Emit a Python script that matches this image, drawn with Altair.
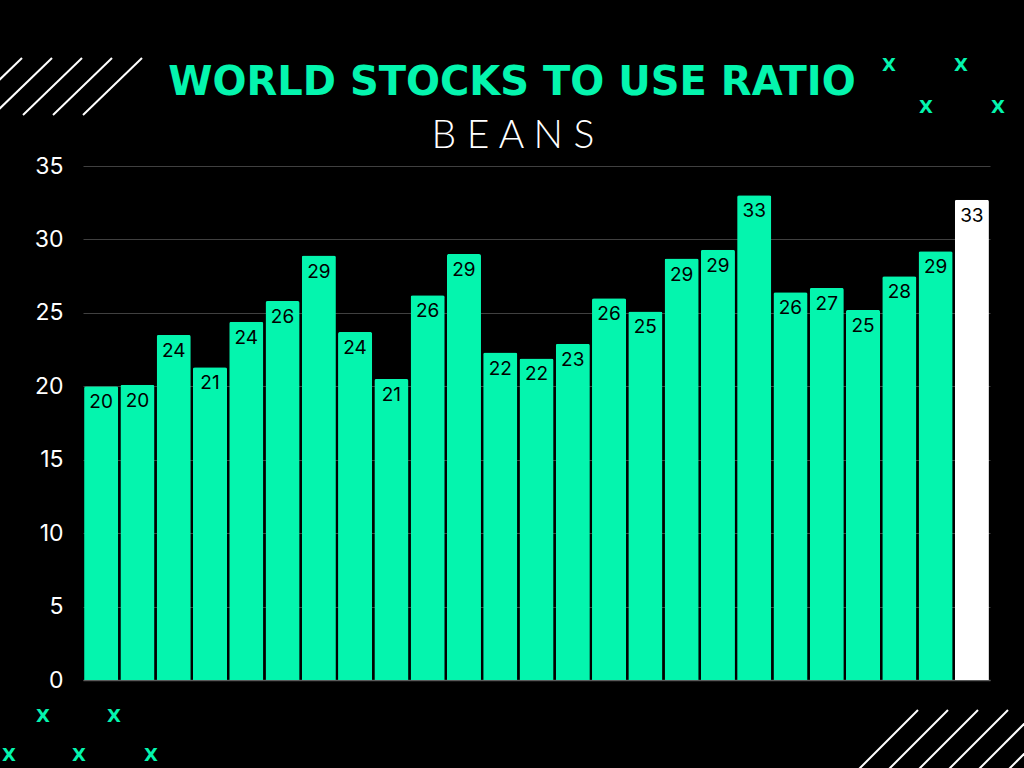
import altair as alt
import pandas as pd
import jinja2

# ---- data ----
bars = list(range(1, 26))
values = [20.0, 20.1, 23.5, 21.3, 24.4, 25.8, 28.9, 23.7, 20.5, 26.2, 29.0, 22.3, 21.9,
          22.9, 26.0, 25.1, 28.7, 29.3, 33.0, 26.4, 26.7, 25.2, 27.5, 29.2, 32.7]
labels = [20, 20, 24, 21, 24, 26, 29, 24, 21, 26, 29, 22, 22,
          23, 26, 25, 29, 29, 33, 26, 27, 25, 28, 29, 33]
highlight = [False] * 24 + [True]
y_ticks = [0, 5, 10, 15, 20, 25, 30, 35]

title_text = "WORLD STOCKS TO USE RATIO"
subtitle_text = "B E A N S"

GREEN = "#04F5AE"

df = pd.DataFrame({"bar": bars, "value": values, "label": [str(v) for v in labels],
                   "hl": highlight})
df["fill"] = df["hl"].map({True: "#FFFFFF", False: GREEN})

# ---- decorative elements (pixel positions relative to the plot area) ----
OX, OY = 83, 166
stripe_tl = [(22 + 30 * k, 58, 22 + 30 * k - 59, 115) for k in range(5)]
stripe_br = [(918 + 30 * k, 710, 918 + 30 * k - 68, 778) for k in range(6)]
stripes = pd.DataFrame(
    [{"x": a - OX, "y": b - OY, "x2": c - OX, "y2": d - OY} for a, b, c, d in stripe_tl + stripe_br]
)
xmarks_pos = [(889, 66), (961, 66), (926, 108), (998, 108),
              (43, 717), (114, 717), (9, 756), (79, 756), (151, 756)]
xmarks = pd.DataFrame([{"x": a - OX, "y": b - OY, "t": "X"} for a, b in xmarks_pos])

W, H = 907, 514

base = alt.Chart(df)

bar_layer = base.mark_bar(cornerRadiusTopLeft=2, cornerRadiusTopRight=2).encode(
    x=alt.X("bar:O", title=None,
            scale=alt.Scale(paddingInner=0.06, paddingOuter=0.03),
            axis=alt.Axis(labels=False, ticks=False, domain=True, domainColor="#5a5a5a",
                          domainWidth=1.5, grid=False)),
    y=alt.Y("value:Q", title=None,
            scale=alt.Scale(domain=[0, 35], nice=False),
            axis=alt.Axis(values=y_ticks, labelColor="#FFFFFF", labelFontSize=23,
                          labelFont="Inter", labelPadding=20, domain=False, ticks=False,
                          grid=True, gridColor="#404040", gridWidth=1.2)),
    fill=alt.Fill("fill:N", scale=None),
)

label_layer = base.mark_text(baseline="middle", dy=16, fontSize=19, font="Inter",
                             color="#000000").encode(
    x=alt.X("bar:O"),
    y=alt.Y("value:Q"),
    text="label:N",
)

stripe_layer = alt.Chart(stripes).mark_rule(color="#FFFFFF", strokeWidth=2).encode(
    x=alt.X("x:Q", scale=None, axis=None),
    y=alt.Y("y:Q", scale=None, axis=None),
    x2="x2:Q",
    y2="y2:Q",
)

xmark_layer = alt.Chart(xmarks).mark_text(
    font="DejaVu Sans", fontWeight="bold", fontSize=18, color=GREEN,
    baseline="middle", align="center", dy=0).encode(
    x=alt.X("x:Q", scale=None, axis=None),
    y=alt.Y("y:Q", scale=None, axis=None),
    text="t:N",
)

titles = pd.DataFrame([{"x": 512 - OX, "y": 95 - OY, "t": title_text}])
subs = pd.DataFrame([{"x": 513 - OX, "y": 148 - OY, "t": subtitle_text}])

title_layer = alt.Chart(titles).mark_text(
    font="DejaVu Sans", fontWeight="bold", fontSize=40, color=GREEN,
    baseline="alphabetic", align="center").encode(
    x=alt.X("x:Q", scale=None, axis=None),
    y=alt.Y("y:Q", scale=None, axis=None),
    text="t:N",
)

sub_layer = alt.Chart(subs).mark_text(
    font="Lato", fontWeight=300, fontSize=39, color="#FFFFFF",
    baseline="alphabetic", align="center").encode(
    x=alt.X("x:Q", scale=None, axis=None),
    y=alt.Y("y:Q", scale=None, axis=None),
    text="t:N",
)

chart = alt.layer(
    bar_layer, label_layer, stripe_layer, xmark_layer, title_layer, sub_layer
).properties(
    width=W, height=H,
    autosize=alt.AutoSizeParams(type="none"),
    padding={"left": 83, "top": 166, "right": 34, "bottom": 88},
    background="#000000",
).configure_view(stroke=None)

# page template: black page with no margin, same CDN scripts as the standard one
PAGE = jinja2.Template("""<!DOCTYPE html>
<html>
<head>
  <meta charset="utf-8">
  <style>
    html, body { margin: 0; padding: 0; background: #000000; overflow: hidden; }
    #{{ output_div }} { line-height: 0; }
  </style>
  <script type="text/javascript" src="{{ base_url }}/vega@{{ vega_version }}"></script>
  <script type="text/javascript" src="{{ base_url }}/vega-lite@{{ vegalite_version }}"></script>
  <script type="text/javascript" src="{{ base_url }}/vega-embed@{{ vegaembed_version }}"></script>
</head>
<body>
  <div id="{{ output_div }}"></div>
  <script type="text/javascript">
    (function(vegaEmbed) {
      var spec = {{ spec }};
      var embedOpt = {{ embed_options }};
      var el = document.getElementById('{{ output_div }}');
      vegaEmbed("#{{ output_div }}", spec, embedOpt).catch(function(error) {
        el.innerHTML = '<pre style="color:red">' + error + '</pre>';
      });
    })(vegaEmbed);
  </script>
</body>
</html>
""")

chart.save("out.html", embed_options={"renderer": "svg", "actions": False}, template=PAGE)
